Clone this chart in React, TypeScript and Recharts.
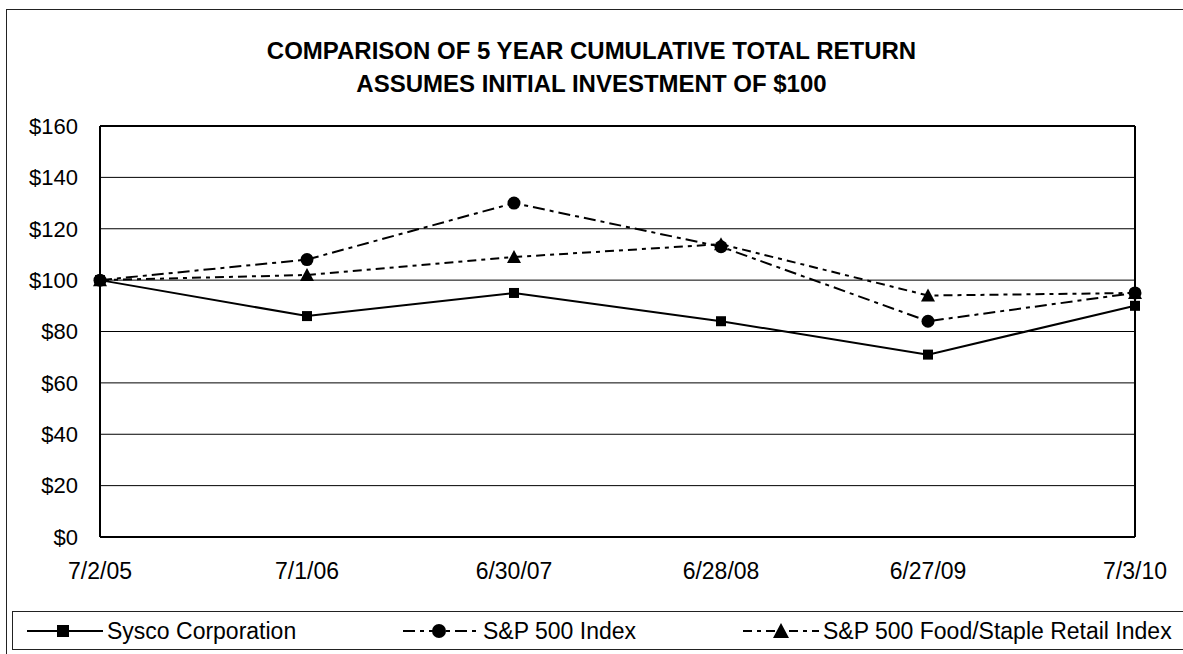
import React from 'react';
import { LineChart, Line, XAxis, YAxis, CartesianGrid, ReferenceLine, Legend } from 'recharts';

const dates = ['7/2/05', '7/1/06', '6/30/07', '6/28/08', '6/27/09', '7/3/10'];
const sysco = [100, 86, 95, 84, 71, 90];
const sp500 = [100, 108, 130, 113, 84, 95];
const foodStaple = [100, 102, 109, 114, 94, 95];
const yTicks = [0, 20, 40, 60, 80, 100, 120, 140, 160];
const seriesNames = ['Sysco Corporation', 'S&P 500 Index', 'S&P 500 Food/Staple Retail Index'];
const titleLines = ['COMPARISON OF 5 YEAR CUMULATIVE TOTAL RETURN', 'ASSUMES INITIAL INVESTMENT OF $100'];

const data = dates.map((d, i) => ({ date: d, sysco: sysco[i], sp500: sp500[i], food: foodStaple[i] }));

const FONT = '"Liberation Sans", Arial, Helvetica, sans-serif';
const SP_DASH = '12 5 4 5';
const FOOD_DASH = '9 5 4 5';

const SquareDot = (p: any) => {
  const { cx, cy } = p;
  if (cx == null || cy == null) return null;
  return <rect key={`s${p.index}`} x={cx - 5} y={cy - 5} width={10} height={10} fill="#000" />;
};
const CircleDot = (p: any) => {
  const { cx, cy } = p;
  if (cx == null || cy == null) return null;
  return <circle key={`c${p.index}`} cx={cx} cy={cy} r={6.5} fill="#000" />;
};
const TriDot = (p: any) => {
  const { cx, cy } = p;
  if (cx == null || cy == null) return null;
  return <polygon key={`t${p.index}`} points={`${cx},${cy - 7} ${cx - 7},${cy + 6} ${cx + 7},${cy + 6}`} fill="#000" />;
};

const LegendIcon = ({ kind }: { kind: number }) => {
  const dash = kind === 0 ? undefined : kind === 1 ? SP_DASH : FOOD_DASH;
  return (
    <svg width={76} height={20} style={{ display: 'block' }}>
      <line x1={0} y1={10} x2={76} y2={10} stroke="#000" strokeWidth={2} strokeDasharray={dash} />
      {kind === 0 && <rect x={30} y={4} width={12} height={12} fill="#000" />}
      {kind === 1 && <circle cx={36} cy={10} r={7} fill="#000" />}
      {kind === 2 && <polygon points="38,2 30,17 46,17" fill="#000" />}
    </svg>
  );
};

const legendLefts = [14, 390, 730];

const renderLegend = () => (
  <div
    style={{
      position: 'relative',
      width: 1200,
      height: 39,
      border: '1.5px solid #222',
      boxSizing: 'border-box',
      fontFamily: FONT,
      fontSize: 23,
      color: '#000',
    }}
  >
    {seriesNames.map((n, i) => (
      <div key={n} style={{ position: 'absolute', left: legendLefts[i], top: 0, height: 38, display: 'flex', alignItems: 'center' }}>
        <LegendIcon kind={i} />
        <span style={{ marginLeft: 4, whiteSpace: 'nowrap', lineHeight: '23px' }}>{n}</span>
      </div>
    ))}
  </div>
);

export default function App() {
  return (
    <div style={{ position: 'absolute', left: 0, top: 0, width: 1183, height: 654, overflow: 'hidden', background: '#fff', fontFamily: FONT }}>
      <div style={{ position: 'absolute', left: 6, top: 9, width: 1300, height: 800, borderLeft: '1.5px solid #222', borderTop: '1.5px solid #222' }} />
      <div
        style={{
          position: 'absolute',
          left: 0,
          top: 34,
          width: 1183,
          textAlign: 'center',
          fontWeight: 'bold',
          fontSize: 24,
          lineHeight: '33px',
          color: '#000',
        }}
      >
        {titleLines.map((t) => (
          <div key={t}>{t}</div>
        ))}
      </div>
      <LineChart
        width={1183}
        height={654}
        data={data}
        margin={{ top: 126, right: 48, bottom: 67, left: 20 }}
        style={{ position: 'absolute', left: 0, top: 0 }}
      >
        <CartesianGrid vertical={false} stroke="#000" strokeWidth={1} />
        <XAxis
          dataKey="date"
          height={50}
          axisLine={{ stroke: '#000', strokeWidth: 2 }}
          tickLine={false}
          tickSize={6}
          tickMargin={20}
          interval={0}
          tick={{ fill: '#000', fontSize: 23, fontFamily: FONT }}
        />
        <YAxis
          width={80}
          domain={[0, 160]}
          ticks={yTicks}
          interval={0}
          axisLine={{ stroke: '#000', strokeWidth: 2 }}
          tickLine={false}
          tickSize={6}
          tickMargin={16}
          tickFormatter={(v: number) => `$${v}`}
          tick={{ fill: '#000', fontSize: 22, fontFamily: FONT }}
        />
        <ReferenceLine y={160} stroke="#000" strokeWidth={2} />
        <ReferenceLine x={dates[dates.length - 1]} stroke="#000" strokeWidth={2} />
        <Legend
          layout="horizontal"
          verticalAlign="middle"
          content={renderLegend}
          wrapperStyle={{ position: 'absolute', left: 12, top: 611, width: 1200, height: 39 }}
        />
        <Line
          type="linear"
          dataKey="sysco"
          name={seriesNames[0]}
          stroke="#000"
          strokeWidth={2}
          dot={SquareDot}
          activeDot={false}
          isAnimationActive={false}
        />
        <Line
          type="linear"
          dataKey="sp500"
          name={seriesNames[1]}
          stroke="#000"
          strokeWidth={2}
          strokeDasharray={SP_DASH}
          dot={CircleDot}
          activeDot={false}
          isAnimationActive={false}
        />
        <Line
          type="linear"
          dataKey="food"
          name={seriesNames[2]}
          stroke="#000"
          strokeWidth={2}
          strokeDasharray={FOOD_DASH}
          dot={TriDot}
          activeDot={false}
          isAnimationActive={false}
        />
      </LineChart>
    </div>
  );
}
